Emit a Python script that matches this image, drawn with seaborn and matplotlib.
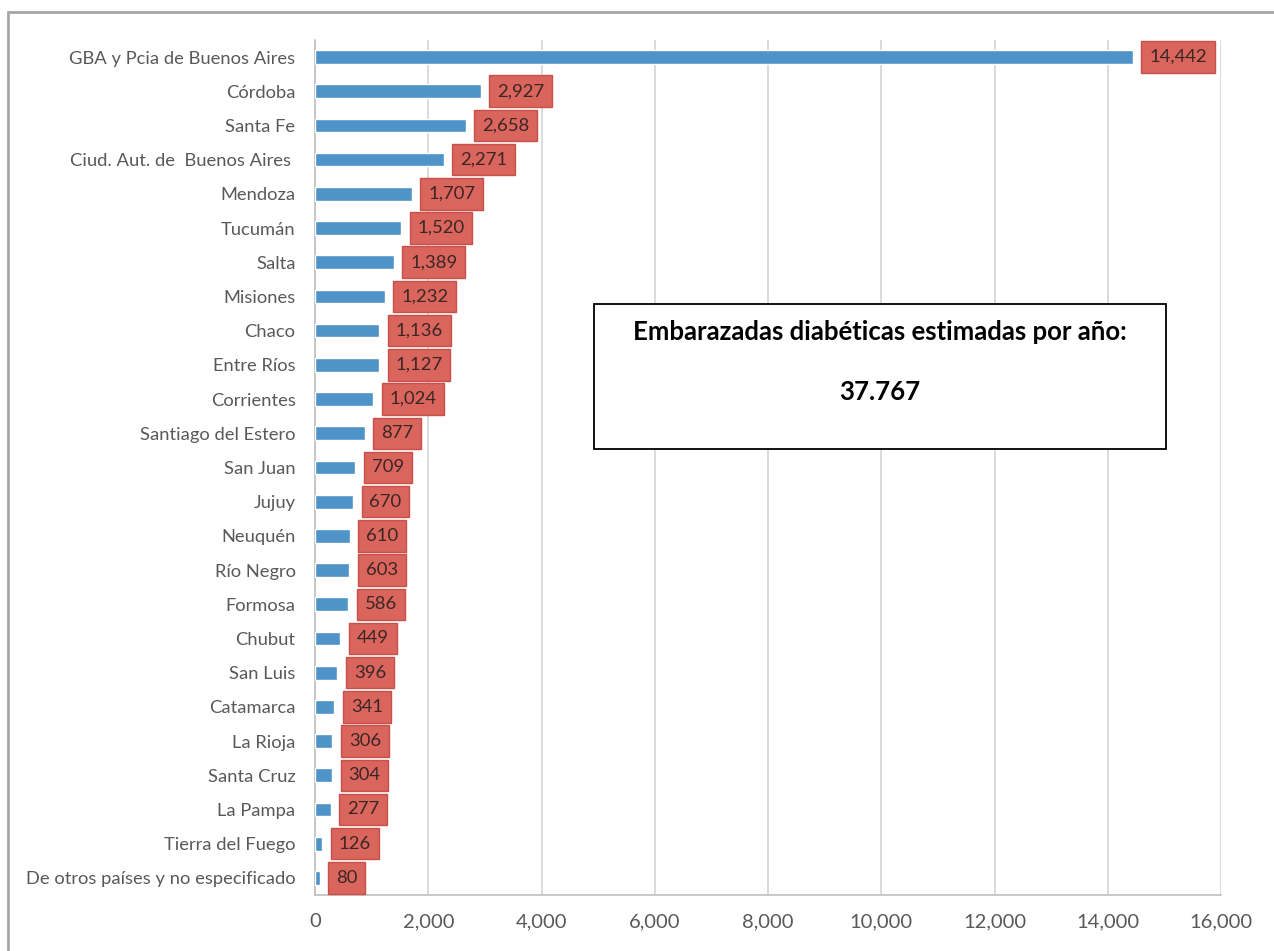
import matplotlib.pyplot as plt
import pandas as pd
import seaborn as sns
from matplotlib.patches import Rectangle
from matplotlib.ticker import FuncFormatter

provincias = [
    "GBA y Pcia de Buenos Aires", "Córdoba", "Santa Fe", "Ciud. Aut. de  Buenos Aires ",
    "Mendoza", "Tucumán", "Salta", "Misiones", "Chaco", "Entre Ríos", "Corrientes",
    "Santiago del Estero", "San Juan", "Jujuy", "Neuquén", "Río Negro", "Formosa",
    "Chubut", "San Luis", "Catamarca", "La Rioja", "Santa Cruz", "La Pampa",
    "Tierra del Fuego", "De otros países y no especificado",
]
embarazadas = [
    14442, 2927, 2658, 2271, 1707, 1520, 1389, 1232, 1136, 1127, 1024,
    877, 709, 670, 610, 603, 586, 449, 396, 341, 306, 304, 277, 126, 80,
]
x_ticks = list(range(0, 16001, 2000))
total_texto = "37.767"
titulo_caja = "Embarazadas diabéticas estimadas por año:"


def main():
    df = pd.DataFrame({"provincia": provincias, "valor": embarazadas})

    sns.set_style("white")
    plt.rcParams["font.family"] = ["Lato", "DejaVu Sans"]

    fig = plt.figure(figsize=(12.74, 9.51), dpi=100)
    ax = fig.add_axes([0.2473, 0.0589, 0.7111, 0.8991])

    sns.barplot(data=df, y="provincia", x="valor", orient="h", color="#4f94c9",
                saturation=1, width=0.4, ax=ax, zorder=3)

    for i, v in enumerate(embarazadas):
        ax.text(v + 290, i, f"{v:,}", va="center", ha="left", fontsize=13.3,
                color="#3b2626", zorder=5,
                bbox=dict(boxstyle="square,pad=0.42", facecolor="#d9655d",
                          edgecolor="#c9504a", linewidth=1))

    ax.set_xlim(0, 16000)
    ax.set_ylim(len(provincias) - 0.5, -0.5)
    ax.set_xticks(x_ticks)
    ax.xaxis.set_major_formatter(FuncFormatter(lambda x, _: f"{int(x):,}"))
    ax.set_yticks([i - 0.5 for i in range(len(provincias) + 1)], minor=True)
    ax.tick_params(axis="y", which="major", length=0, pad=14, labelsize=13.2, labelcolor="#595959")
    ax.tick_params(axis="y", which="minor", length=7, color="#bfbfbf", direction="out")
    ax.tick_params(axis="x", length=7, color="#bfbfbf", direction="out", pad=6,
                   labelsize=14.5, labelcolor="#595959")
    ax.grid(axis="x", color="#d4d4d4", linewidth=1.2, zorder=0)
    ax.set_axisbelow(True)
    ax.set_xlabel("")
    ax.set_ylabel("")
    for side in ["top", "right"]:
        ax.spines[side].set_visible(False)
    for side in ["left", "bottom"]:
        ax.spines[side].set_color("#bfbfbf")
        ax.spines[side].set_linewidth(1.2)

    # caja de texto con el total
    ax.add_patch(Rectangle((0.308, 0.5216), 0.631, 0.1694, transform=ax.transAxes,
                           facecolor="white", edgecolor="black", linewidth=1.3, zorder=6))
    ax.text(0.6235, 0.658, titulo_caja, transform=ax.transAxes, ha="center", va="center",
            fontsize=18.5, fontweight="bold", color="black", zorder=7)
    ax.text(0.6235, 0.588, total_texto, transform=ax.transAxes, ha="center", va="center",
            fontsize=18.5, fontweight="bold", color="black", zorder=7)

    # borde exterior del gráfico
    fig.patches.append(Rectangle((8 / 1274, -0.05), 1.1, 1 - 12 / 951 + 0.05,
                                 transform=fig.transFigure, fill=False,
                                 edgecolor="#a6a6a6", linewidth=2))

    fig.savefig("out.png", dpi=100)
    plt.close(fig)


if __name__ == "__main__":
    main()
